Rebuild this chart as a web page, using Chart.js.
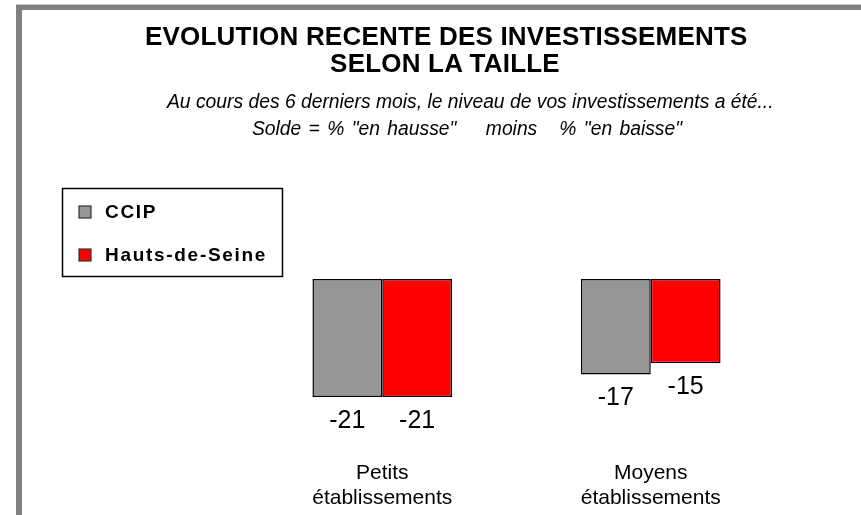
<!DOCTYPE html>
<html>
<head>
<meta charset="utf-8">
<script src="https://cdn.jsdelivr.net/npm/chart.js@4"></script>
<style>
  html, body { margin: 0; padding: 0; background: #fff; }
  body { width: 861px; height: 515px; position: relative; overflow: hidden; font-family: Arial, "Liberation Sans", sans-serif; }
  #frame { position: absolute; left: 16px; top: 4px; right: -10px; bottom: -10px;
           border-left: 6px solid #808080; border-top: 6px solid #808080; box-sizing: border-box; }
  #frame-light { position: absolute; left: 16px; top: 4px; right: 0; height: 1px; background: #c8c8c8; }
  #chart-box { position: absolute; left: 0; top: 0; width: 861px; height: 515px; }
  .title { position: absolute; text-align: center; color: #000; white-space: pre; }
  #title { top: 23px; left: 145px; width: 600px; font-weight: bold; font-size: 26px; line-height: 27px; letter-spacing: 0.2px; }
  #subtitle { top: 88px; left: 167px; width: 600px; font-style: italic; font-size: 19.3px; line-height: 27px; }
  #subtitle .l2 { word-spacing: 2px; }
</style>
</head>
<body>
<div id="frame"></div>
<div id="frame-light"></div>
<div id="chart-box"><canvas id="chart" width="861" height="515"></canvas></div>
<div class="title" id="title">EVOLUTION RECENTE DES INVESTISSEMENTS
SELON LA TAILLE</div>
<div class="title" id="subtitle">Au cours des 6 derniers mois, le niveau de vos investissements a été...
<span class="l2">Solde = % "en hausse"    moins   % "en baisse"</span></div>

<script>
// ---------------------
// Data
// ---------------------
const categories = [["Petits", "établissements"], ["Moyens", "établissements"]];
const seriesNames = ["CCIP", "Hauts-de-Seine"];
const ccipValues = [-21, -17];
const hautsDeSeineValues = [-21, -15];
const seriesColors = ["#969696", "#ff0000"];

// ---------------------
// Plugins
// ---------------------
// value labels under each bar
const valueLabels = {
    id: "valueLabels",
    afterDatasetsDraw(chart) {
        const ctx = chart.ctx;
        ctx.save();
        ctx.font = "25px Arial, 'Liberation Sans', sans-serif";
        ctx.fillStyle = "#000";
        ctx.textAlign = "center";
        ctx.textBaseline = "middle";
        chart.data.datasets.forEach((ds, i) => {
            chart.getDatasetMeta(i).data.forEach((bar, j) => {
                ctx.fillText(String(ds.data[j]), bar.x, bar.y + 24);
            });
        });
        ctx.restore();
    }
};

// boxed legend at the left, like the original
const boxedLegend = {
    id: "boxedLegend",
    afterDraw(chart) {
        const ctx = chart.ctx;
        ctx.save();
        ctx.lineWidth = 1.5;
        ctx.strokeStyle = "#000";
        ctx.strokeRect(62.5, 188.5, 220, 88);
        ctx.font = "bold 19px Arial, 'Liberation Sans', sans-serif";
        ctx.letterSpacing = "1.7px";
        ctx.textBaseline = "middle";
        chart.data.datasets.forEach((ds, i) => {
            const y = 212 + i * 43;
            ctx.fillStyle = ds.backgroundColor;
            ctx.fillRect(79, y - 6, 12, 12);
            ctx.lineWidth = 1.2;
            ctx.strokeStyle = "#333";
            ctx.strokeRect(79, y - 6, 12, 12);
            ctx.fillStyle = "#000";
            ctx.fillText(ds.label, 105, y + 1);
        });
        ctx.restore();
    }
};

// ---------------------
// Chart
// ---------------------
new Chart(document.getElementById("chart"), {
    type: "bar",
    data: {
        labels: categories,
        datasets: [
            { label: seriesNames[0], data: ccipValues, backgroundColor: seriesColors[0] },
            { label: seriesNames[1], data: hautsDeSeineValues, backgroundColor: seriesColors[1] }
        ]
    },
    options: {
        responsive: false,
        animation: false,
        // negative bottom padding lets the category labels sit low like the original
        layout: { padding: { top: 279, left: 248, right: 76, bottom: -9 } },
        datasets: {
            bar: {
                borderColor: "#000",
                borderWidth: 1.5,
                borderSkipped: false,
                categoryPercentage: 0.52,
                barPercentage: 1
            }
        },
        plugins: {
            legend: { display: false },
            title: { display: false },
            tooltip: { enabled: false }
        },
        scales: {
            x: {
                grid: { display: false, drawTicks: false },
                border: { display: false },
                ticks: {
                    color: "#000",
                    padding: 13,
                    maxRotation: 0,
                    font: { family: "Arial, 'Liberation Sans', sans-serif", size: 21 }
                }
            },
            y: {
                display: false,
                min: -30,
                max: 0
            }
        }
    },
    plugins: [valueLabels, boxedLegend]
});
</script>
</body>
</html>
